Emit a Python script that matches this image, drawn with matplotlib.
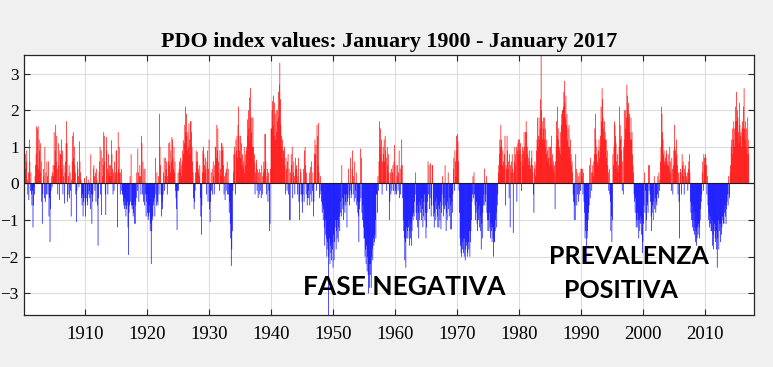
import matplotlib.pyplot as plt
import numpy as np

# monthly PDO index (one row = one year, Jan..Dec)
pdo_1900s = [
    0.3, 0.7, 0.5, 0.8, 0.4, 0.6, 0.9, 0.1, -0.3, 0.3, -0.45, 1.2,
    0.6, -0.2, 0.3, -0.3, -0.6, -0.2, -1.2, -0.6, -0.1, -0.3, 0.2, 0.5,
    0.8, 1.56, 0.5, 1.5, 1.56, 0.4, 1.2, 0.9, 0.3, 1.1, 0.6, -0.5,
    -1.1, -0.3, 0.4, 0.2, -0.4, 1.0, -0.5, 0.3, -0.3, 0.6, 0.2, -0.3,
    0.6, -0.9, -0.4, -1.6, -0.7, -0.2, 0.2, -0.1, 0.3, 0.5, 0.2, 1.4,
    0.5, 0.9, 1.6, 0.6, 1.3, 0.4, -0.3, 1.1, 0.5, -0.45, 0.9, 0.8,
    0.8, 1.2, 0.4, 0.9, -0.3, 0.2, 0.5, -0.55, 0.3, 0.6, 1.1, 1.7,
    1.1, -0.5, -0.3, 0.2, 0.5, -0.4, 0.3, -0.2, -0.9, 0.1, 0.6, 1.3,
    1.4, 0.7, 1.0, 0.5, 0.3, -0.3, -1.05, -0.2, 0.6, 0.4, 0.2, -0.1,
    1.15, 0.6, 0.3, 0.1, -0.4, -0.6, -0.3, -0.9, -0.5, -0.4, 0.15, -0.6,
]
pdo_1910s = [
    -0.9, -0.4, 0.2, -0.5, -0.6, -0.3, 0.1, -0.2, -0.4, -0.7, 0.8, -0.3,
    -1.1, -0.5, -0.3, 0.4, 0.5, 0.2, -0.2, 0.3, -0.5, 0.4, 0.1, -0.6,
    -1.7, -0.4, 0.3, 0.6, 1.0, -0.3, 0.9, -0.86, 0.7, 0.2, 0.5, 1.4,
    1.3, 0.6, -0.3, -0.86, 1.27, 0.9, 0.4, -0.3, 0.8, 0.3, 0.5, 0.2,
    0.5, 0.2, 1.18, 0.8, 0.4, -0.3, 0.3, -0.2, 0.6, 0.1, 0.3, 0.9,
    0.9, 0.3, -1.2, 1.4, 0.4, 1.0, 0.3, -0.3, 0.3, 0.4, -0.2, -0.3,
    -0.3, -0.5, -0.6, -0.7, -0.4, -0.6, -0.9, -0.7, -0.6, -0.5, -1.2, -1.95,
    -0.8, -0.6, 0.2, -0.5, 0.8, -0.6, -0.7, -0.6, -0.9, -0.8, -0.5, -1.1,
    -1.1, -0.6, -0.4, 0.3, -0.2, 0.95, 0.3, -0.5, 0.2, 0.5, 0.2, -0.3,
    1.3, 1.1, -0.3, 0.6, -0.5, 0.4, -0.6, 0.4, -0.3, -0.9, -0.5, -0.3,
]
pdo_1920s = [
    -0.8, -1.0, -0.9, -0.6, -0.8, -1.3, -1.1, -2.2, -1.3, -1.0, -0.9, -0.6,
    -0.5, -0.4, -0.9, 0.7, -0.3, -0.6, 0.3, -0.5, -0.6, 0.2, -0.3, 1.9,
    1.0, 0.5, -0.3, -0.9, -0.5, -0.7, -0.3, 0.3, 0.7, -0.2, 0.2, 0.7,
    0.4, 0.6, -0.3, 0.2, 0.6, 1.1, 0.5, 1.13, 0.3, 0.9, 0.6, 1.27,
    1.2, 0.7, 0.4, 1.0, 0.3, 0.6, -0.2, -0.4, -0.7, -1.27, -0.2, 0.3,
    -0.2, 0.4, 0.6, 0.3, 0.7, 0.5, 0.2, 0.6, 0.9, 1.18, 0.8, 1.1,
    1.6, 2.1, 1.4, 1.9, 1.3, 0.9, 1.4, 1.0, 1.63, 1.2, 0.8, 1.7,
    1.7, 1.4, 1.0, 0.6, 0.3, -0.4, -0.7, -0.5, -0.2, 0.3, 0.9, 0.6,
    0.86, 0.6, 0.4, 0.3, 0.2, 0.5, -0.4, -0.9, -1.4, -0.6, 0.3, 0.9,
    1.0, 0.8, 0.5, 0.3, 0.7, 0.4, -0.3, 0.6, 0.9, -0.5, 0.4, 1.2,
]
pdo_1930s = [
    -0.7, -1.05, -0.5, 0.3, -0.2, 0.4, -0.3, 0.6, 0.2, -0.3, 0.5, 1.0,
    1.0, 0.7, 1.6, 0.9, 1.5, 0.6, 0.3, -0.2, 0.9, 0.4, 0.2, 1.1,
    1.1, 0.9, 1.0, 0.5, -0.3, 0.2, -0.45, 0.3, -0.2, 0.4, 0.6, -0.3,
    0.4, -0.3, -0.8, -0.5, -1.1, -1.5, -2.25, -1.8, -1.3, -0.2, 0.3, 0.8,
    1.0, 0.8, -0.3, 1.2, 0.9, 1.3, 0.7, 1.6, 2.1, 1.3, 0.9, 0.7,
    1.3, 0.7, 1.1, 0.5, 0.8, 0.4, 0.6, 1.0, 0.3, 0.5, 0.8, 0.9,
    1.0, 1.75, 1.3, 2.0, 1.5, 2.35, 1.2, 2.6, 1.8, 1.4, 1.8, 1.0,
    1.8, 1.0, 0.6, 0.8, -0.3, 0.3, 0.55, 0.65, -0.2, 0.4, -0.4, 0.3,
    -0.3, 0.4, -0.2, 0.3, -0.4, 0.5, -0.3, 0.2, 0.3, 0.6, 0.4, 1.35,
    1.35, 0.6, -0.3, 0.2, 0.4, -0.5, 0.3, -0.2, -1.3, -1.1, 0.4, 1.5,
]
pdo_1940s = [
    1.5, 2.0, 2.25, 1.6, 2.4, 1.3, 2.2, 1.9, 1.2, 2.0, 1.4, 1.7,
    2.0, 2.5, 1.8, 2.7, 3.3, 2.3, 1.6, 1.3, 1.0, 1.2, 0.7, 0.9,
    0.9, 1.0, 0.5, -0.3, 0.7, 0.4, -0.2, 0.6, 0.8, -0.3, 0.4, -1.0,
    -1.0, 0.3, 0.8, 0.5, 1.0, -0.4, 0.3, 0.6, 0.2, -0.3, 0.7, 0.4,
    0.5, 0.4, -0.3, 0.2, 0.7, -0.5, -1.0, -0.3, 0.4, 0.3, -0.3, -0.5,
    -0.8, -0.3, 0.4, -0.5, 0.9, 1.0, 0.5, -0.3, 0.3, -0.6, -0.4, -0.2,
    -0.4, 0.3, -0.6, 0.45, -0.3, 0.6, -0.5, -0.2, 0.3, -0.9, -0.5, 0.8,
    1.2, 0.8, 1.05, -0.2, 1.6, 1.3, 0.5, 1.65, 0.3, -0.4, -0.3, 0.2,
    -0.2, -0.5, -0.8, -0.6, -1.0, -0.7, -1.2, -1.7, -1.0, -1.4, -1.5, -2.0,
    -1.6, -1.8, -3.7, -2.0, -1.5, -2.2, -1.7, -1.9, -2.1, -1.6, -1.8, -2.3,
]
pdo_1950s = [
    -1.4, -2.1, -1.6, -1.2, -1.0, -1.8, -1.3, -1.5, -1.0, -1.6, -1.2, -0.9,
    -1.3, -0.8, -0.5, -0.9, 0.5, -0.4, -0.7, -1.0, -0.6, -0.3, -0.8, -0.5,
    -0.6, -0.3, -1.2, -0.5, -0.4, 0.4, -0.3, -0.6, -0.2, 0.7, -0.4, -0.3,
    0.4, 0.9, -0.3, 0.2, -0.5, 0.6, -0.4, -0.2, 0.3, -0.6, -0.5, -0.8,
    -0.9, -1.6, -0.7, -0.5, 0.95, -0.4, 0.7, -0.8, -1.0, -0.6, -1.2, -1.5,
    -1.5, -2.0, -1.8, -2.2, -1.7, -2.4, -2.0, -2.5, -3.0, -2.2, -2.85, -2.5,
    -2.2, -2.85, -2.0, -1.8, -2.1, -1.5, -1.7, -1.6, -1.4, -1.0, -1.5, -0.3,
    -0.3, -0.8, 0.2, -0.2, 0.6, 1.7, 1.0, 1.5, 0.8, 1.2, -0.3, 0.6,
    1.0, 0.8, 1.2, 0.6, 1.3, 0.9, 0.7, -0.2, 1.0, 0.5, 0.8, 0.3,
    -1.0, -0.5, 0.3, -0.3, 0.4, -0.2, 0.3, 0.5, -0.2, 0.6, 1.05, -0.3,
]
pdo_1960s = [
    -0.2, 0.5, -0.3, 0.2, 0.5, -0.2, 0.3, 0.9, -0.4, 0.4, -0.3, 0.5,
    1.2, 0.5, -0.4, -1.0, -1.3, -1.5, -2.1, -1.6, -2.3, -1.2, -1.5, -1.3,
    -1.5, -1.2, -1.0, -1.7, -1.3, -1.5, -1.1, -1.7, -1.3, -0.9, -1.0, -0.8,
    -0.9, -0.5, -0.3, 0.3, -0.8, -1.0, -0.6, -1.2, -0.8, -1.5, -1.0, -0.5,
    -0.6, -0.8, -1.0, -0.4, -0.7, -1.2, -0.9, -0.5, -0.3, -1.0, -0.8, -1.5,
    -1.2, -0.8, -0.5, 0.6, -0.3, 0.5, -0.7, -0.4, 0.55, -0.9, -0.6, 0.5,
    0.5, -0.6, -0.9, -1.2, -0.8, -0.5, -1.0, -0.7, -0.4, -0.9, -1.2, -0.6,
    -1.2, -0.7, -1.0, -0.5, -1.25, -0.8, -0.3, 0.2, -0.6, -0.9, -0.4, -0.7,
    0.5, -0.6, -1.3, -0.8, -1.0, -0.5, 0.3, -0.7, -0.9, -0.4, -0.6, -1.25,
    -1.25, -0.5, -0.8, -0.3, 0.4, 0.7, -0.2, 0.9, 0.6, 0.2, 1.3, 0.9,
]
pdo_1970s = [
    1.35, 1.15, 0.6, -0.2, -0.8, -1.5, -1.7, -1.9, -2.0, -1.6, -1.8, -1.5,
    -1.9, -2.0, -1.5, -2.1, -1.8, -1.6, -1.7, -2.0, -1.9, -1.6, -1.8, -1.3,
    -2.0, -1.6, -1.3, -1.0, -0.5, -0.3, 0.2, -0.4, 0.3, -0.3, -0.6, -1.0,
    -0.8, -0.5, -1.1, -1.3, -0.7, -1.0, -0.6, -1.2, -0.9, -1.3, -1.8, -1.1,
    -1.5, -0.8, -0.6, -0.3, 0.4, -0.6, -0.5, -0.3, 0.2, -0.8, -1.0, -1.3,
    -1.0, -1.3, -0.8, -1.2, -1.5, -1.1, -1.3, -1.6, -1.2, -1.5, -2.0, -1.6,
    -1.6, -1.3, -1.0, -0.8, -1.2, -0.6, -0.3, 0.3, 0.5, 0.8, 1.2, 1.0,
    1.6, 1.2, 1.0, 0.5, 0.9, 0.6, 0.4, 0.8, 1.3, -0.6, 0.5, 0.4,
    1.3, 0.9, 0.4, 0.6, -0.4, 0.8, -1.2, 0.5, 0.3, 0.6, 0.8, 0.4,
    -1.35, 0.3, 0.6, 1.0, 0.8, 0.5, 1.0, -0.5, 0.9, 1.1, 1.2, 0.8,
]
pdo_1980s = [
    1.2, 0.9, 1.1, 0.6, -0.2, 0.8, 1.0, 0.5, 0.9, 1.4, 1.0, 0.7,
    1.4, 1.7, 1.4, 0.8, 1.0, 0.5, 0.7, 0.9, 0.6, 0.4, 0.5, 0.7,
    0.9, 0.5, 0.3, -0.3, -0.8, 0.4, 0.6, 0.2, 0.5, 0.9, 1.2, 1.8,
    1.0, 1.3, 1.8, 1.2, 1.5, 2.3, 3.6, 2.0, 1.7, 1.2, 1.5, 1.8,
    1.2, 1.8, 1.5, 1.0, 0.8, 1.2, 0.9, 0.6, 0.7, 1.0, 0.5, 1.0,
    1.0, 0.7, 1.3, 0.5, 0.8, 0.4, 0.6, 0.3, 0.5, -0.7, 0.6, 1.0,
    1.7, 1.3, 2.1, 1.5, 1.2, 0.9, 1.0, 1.4, 0.8, 1.6, 1.9, 2.0,
    2.0, 2.1, 2.5, 2.8, 2.2, 1.8, 2.4, 1.6, 1.9, 1.2, 1.5, 1.0,
    1.6, 1.0, 0.7, 1.2, 0.8, 0.5, 0.6, 0.3, -0.3, -0.5, -1.0, -0.6,
    -1.0, 0.8, 0.4, -0.6, -0.3, 0.3, -0.5, 0.2, -0.3, 0.3, -0.2, 0.4,
]
pdo_1990s = [
    0.4, 0.2, 0.4, -0.3, 0.3, -0.5, -0.8, -1.5, -1.3, -1.0, -2.2, -1.5,
    -1.3, -1.0, -0.8, -0.6, 0.5, -0.4, 0.7, 0.3, -0.2, 0.3, 0.5, 0.2,
    0.6, 0.8, 1.5, 1.9, 1.2, 0.8, 1.0, 0.6, 0.5, 0.9, 1.2, 0.7,
    1.0, 1.3, 2.1, 1.7, 2.6, 2.3, 1.8, 1.5, 1.2, 1.7, 1.4, 1.2,
    1.2, 0.7, 0.9, 0.5, 0.3, -0.2, 0.4, -0.3, -0.5, -1.3, -0.9, -1.6,
    -1.0, 0.8, 0.5, 1.0, 1.7, 1.6, 1.3, 1.1, 0.6, 0.4, 0.8, 0.3,
    0.5, 1.0, 2.1, 1.6, 1.2, 1.3, 0.9, -0.2, 0.6, -0.3, 1.0, 2.0,
    1.2, 2.0, 1.5, 1.8, 2.7, 2.4, 2.0, 2.2, 1.8, 1.9, 1.4, 1.2,
    1.8, 1.2, 1.4, 0.8, 0.5, 0.3, -0.3, -0.5, -0.8, -0.4, -1.2, -1.0,
    -1.2, -0.8, -1.0, -1.5, -1.0, -1.3, -1.1, -0.9, -1.4, -1.0, -1.9, -1.6,
]
pdo_2000s = [
    -1.1, -0.6, 0.3, -0.8, -0.2, -1.3, -1.0, -0.5, -0.6, -0.8, 0.5, -0.2,
    0.5, -0.3, -0.5, -0.9, -1.3, -0.8, -0.6, -1.0, -0.5, 0.2, -0.7, -0.4,
    -0.8, -0.5, -0.6, -0.3, 0.2, -0.4, 0.3, -0.2, 0.1, 0.6, 1.0, 2.1,
    1.9, 1.4, 1.2, 0.8, 0.9, 0.6, 0.5, 0.7, 0.8, 0.9, 0.6, 0.5,
    0.8, 0.5, 0.4, 1.0, 0.6, 0.3, -0.2, 0.7, 0.4, -0.3, 0.5, 0.9,
    1.6, 1.0, 0.9, 0.7, 1.2, 0.8, 0.5, -0.3, 0.3, -0.5, -1.5, 0.3,
    0.4, 0.3, -0.3, 0.8, 0.5, 0.6, 0.2, -0.3, 0.4, 0.5, 0.3, 0.2,
    0.1, 0.3, -0.2, 0.4, 0.6, 0.8, 0.3, -0.5, -0.8, -1.0, -0.6, -1.2,
    -1.0, -1.3, -0.8, -1.4, -1.2, -1.6, -1.3, -1.7, -1.5, -1.2, -1.4, -1.1,
    -1.2, -1.5, -1.0, -0.7, -0.5, -0.3, 0.3, 0.6, -0.2, 0.8, 0.7, 0.5,
]
pdo_2010s = [
    0.8, 0.7, 0.5, -0.3, 0.2, -0.6, -1.0, -0.8, -1.2, -0.9, -1.1, -1.3,
    -1.3, -1.0, -1.7, -1.4, -1.8, -1.3, -1.1, -1.5, -1.6, -1.3, -1.8, -2.3,
    -1.5, -1.0, -1.8, -1.3, -1.1, -1.6, -1.1, -1.4, -1.2, -0.9, -1.0, -1.1,
    -1.1, -0.8, -0.6, -0.9, -1.1, -0.7, -0.5, -0.3, -0.6, 0.2, -0.3, -0.4,
    0.3, 0.5, 1.0, 1.2, 0.8, 1.5, 1.2, 1.7, 1.0, 1.5, 2.1, 1.7,
    2.5, 1.7, 2.0, 1.8, 1.4, 1.1, 2.2, 1.6, 1.3, 1.4, 1.0, 1.5,
    1.7, 1.5, 2.1, 2.6, 1.5, 1.2, 1.7, 1.0, 1.5, 0.8, 1.8, 1.2,
    0.8,  # January 2017
]

pdo = np.array(pdo_1900s + pdo_1910s + pdo_1920s + pdo_1930s + pdo_1940s
               + pdo_1950s + pdo_1960s + pdo_1970s + pdo_1980s + pdo_1990s
               + pdo_2000s + pdo_2010s)
t = 1900 + np.arange(len(pdo)) / 12  # decimal years, one bar per month

fig = plt.figure(figsize=(7.73, 3.67), dpi=100, facecolor='#f0f0f0')
ax = fig.add_axes([0.0314, 0.1409, 0.9444, 0.7084])

colors = np.where(pdo >= 0, '#ff0000', '#0000ff')
# no pixel snapping, so the sub-pixel monthly bars come out antialiased (pale);
# slightly wider than a month so runs of similar months fill in solid
ax.bar(t, pdo, width=0.11, color=colors, linewidth=0, align='edge',
       snap=False, zorder=2)
ax.axhline(0, color='#1a1a1a', lw=0.8, zorder=3)

ax.set_xlim(1900.15, 2017.95)
ax.set_ylim(-3.6, 3.5)
ax.set_xticks(range(1910, 2011, 10))
ax.set_yticks(range(-3, 4))

ax.grid(True, color='#dcdcdc', lw=0.8, zorder=0)
ax.set_axisbelow(True)
ax.tick_params(direction='in', top=True, right=True, length=4, width=0.8,
               color='#262626')
ax.tick_params(axis='x', pad=8, labelsize=13.5)
ax.tick_params(axis='y', pad=4, labelsize=12.5)
for lab in ax.get_xticklabels() + ax.get_yticklabels():
    lab.set_fontfamily('Liberation Serif')
for sp in ax.spines.values():
    sp.set_color('#262626')
    sp.set_linewidth(0.9)

ax.set_title('PDO index values: January 1900 - January 2017',
             fontfamily='Liberation Serif', fontweight='bold', fontsize=15.8, pad=6)

# labels written on the chart
ax.text(1961.5, -2.82, 'FASE NEGATIVA', fontfamily='Lato', fontweight='bold',
        fontsize=19, ha='center', va='center', zorder=4)
ax.text(1997.8, -2.0, 'PREVALENZA', fontfamily='Lato', fontweight='bold',
        fontsize=18, ha='center', va='center', zorder=4)
ax.text(1996.4, -2.93, 'POSITIVA', fontfamily='Lato', fontweight='bold',
        fontsize=18, ha='center', va='center', zorder=4)

plt.savefig('out.png', dpi=100, facecolor=fig.get_facecolor())
